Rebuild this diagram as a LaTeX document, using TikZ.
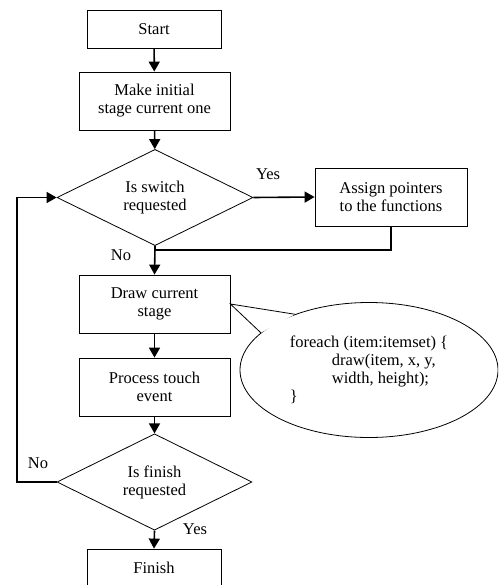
\documentclass[tikz,border=0pt]{standalone}
\usepackage{fontspec}
\setmainfont{Liberation Serif}
\usetikzlibrary{arrows.meta,shapes.geometric,calc}

\begin{document}
\begin{tikzpicture}[x=1pt,y=-1pt,
  every node/.style={font=\fontsize{16.5}{18}\selectfont},
  stepbox/.style={draw, line width=0.8pt, rectangle, inner sep=0pt, align=center},
  decision/.style={draw, line width=0.8pt, diamond, inner sep=0pt, align=center},
  note/.style={draw, line width=0.8pt, ellipse, inner sep=0pt, align=left,
    minimum width=258pt, minimum height=135pt},
  flow/.style={line width=1.6pt, -{Triangle[length=10pt,width=11pt]}},
  link/.style={line width=1.6pt},
  lbl/.style={inner sep=0pt}]

\useasboundingbox (0,0) rectangle (498,585);
\clip (0,0) rectangle (498,585);

% process steps
\node[stepbox, minimum width=134pt, minimum height=38pt] (start) at (154,29) {Start};
\node[stepbox, minimum width=151pt, minimum height=58pt] (init) at (154.5,101) {Make initial\\stage current one};
\node[decision, minimum width=196pt, minimum height=95pt] (sw) at (155,197.5) {Is switch\\requested};
\node[stepbox, minimum width=152pt, minimum height=58pt] (assign) at (391,197) {Assign pointers\\to the functions};
\node[stepbox, minimum width=151pt, minimum height=58pt] (drawst) at (154.5,304) {Draw current\\stage};
\node[stepbox, minimum width=151pt, minimum height=58pt] (touch) at (154.5,387) {Process touch\\event};
\node[decision, minimum width=195pt, minimum height=90pt] (fin) at (154.5,482) {Is finish\\requested};
\node[stepbox, minimum width=134pt, minimum height=38pt] (finish) at (154,568) {Finish};

% comment bubble with its pointer to the drawing step
\node[note] (code) at (369,370)
  {foreach (item:itemset) \{\\\hspace*{42pt}draw(item, x, y,\\\hspace*{42pt}width, height);\\\}};
\coordinate (pa) at (code.143);
\coordinate (pb) at (code.161);
\fill[white] (pa) -- (drawst.east) -- (pb) -- cycle;
\draw[line width=0.8pt, line join=miter] (pa) -- (drawst.east) -- (pb);

% branch labels
\node[lbl] (yes1) at (268,174) {Yes};
\node[lbl] (no1) at (121,255) {No};
\node[lbl] (no2) at (38,463) {No};
\node[lbl] (yes2) at (195,529) {Yes};

% connectors
\coordinate (merge) at (155,250);
\coordinate (loopbot) at (17,482);
\coordinate (looptop) at (17,197.5);

\draw[flow] (start) -- (init);
\draw[flow] (init) -- (sw);
\draw[flow] (sw.east) -- (assign.west);
\draw[link] (assign.south) |- (merge);
\draw[flow] (sw.south) -- (drawst.north);
\draw[flow] (drawst) -- (touch);
\draw[flow] (touch) -- (fin);
\draw[flow] (fin.south) -- (finish.north);
\draw[flow] (fin.west) -- (loopbot) -- (looptop) -- (sw.west);
\end{tikzpicture}
\end{document}
